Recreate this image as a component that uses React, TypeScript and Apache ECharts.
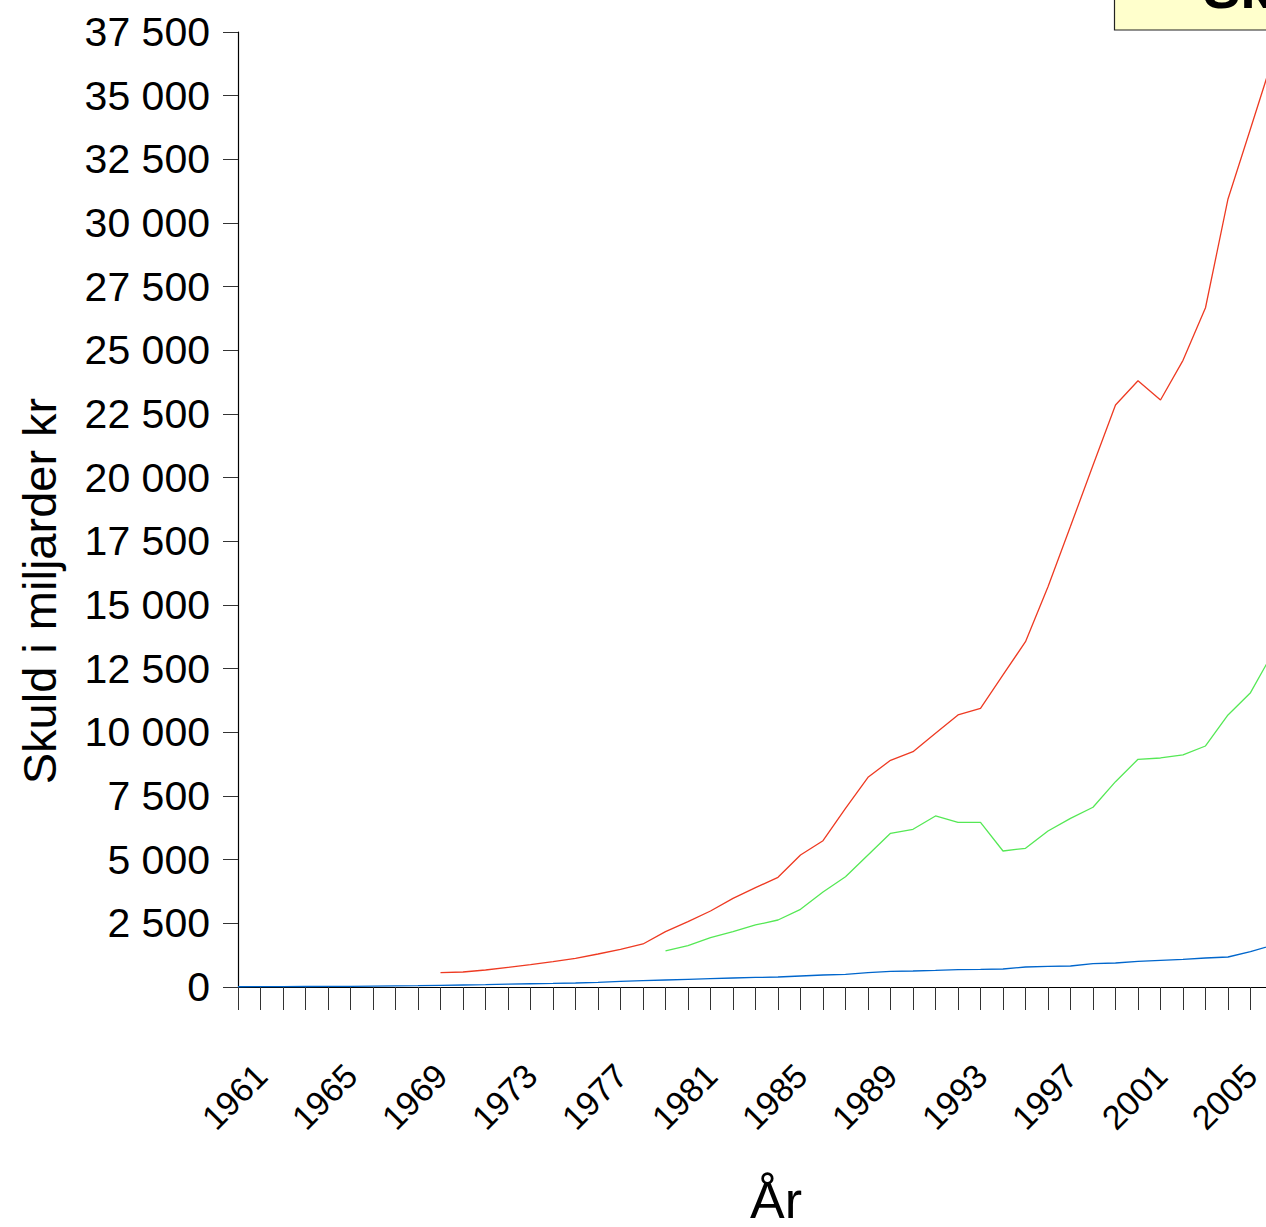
import React, { useEffect, useRef } from "react";
import * as echarts from "echarts";

const FONT = "'Liberation Sans', Arial, sans-serif";

const years: string[] = [];
for (let y = 1961; y <= 2008; y++) years.push(String(y));

// Blue series 1961–2007
const blueValues = [
  10, 12, 15, 19, 23, 28, 34, 42, 52, 66,
  79, 92, 112, 128, 142, 158, 183, 220, 249, 275,
  301, 327, 353, 375, 393, 432, 471, 498, 562, 615,
  628, 654, 681, 690, 707, 785, 811, 825, 916, 942,
  1008, 1047, 1086, 1139, 1178, 1387, 1650,
];

// Red series 1970–2007
const redStart = 1970;
const redValues = [
  562, 589, 668, 772, 877, 995, 1126, 1296, 1479, 1689,
  2173, 2566, 2985, 3482, 3901, 4307, 5184, 5745, 7017, 8235,
  8903, 9241, 9963, 10681, 10944, 12252, 13560, 15720, 18091, 20487,
  22855, 23806, 23051, 24606, 26672, 30945, 33700, 36480,
];

// Green series 1980–2007
const greenStart = 1980;
const greenValues = [
  1414, 1623, 1937, 2173, 2435, 2631, 3050, 3730, 4332, 5184,
  6035, 6192, 6715, 6467, 6467, 5341, 5446, 6126, 6624, 7057,
  8062, 8942, 8993, 9111, 9464, 10681, 11557, 13136,
];

const yTickValues = [0, 2500, 5000, 7500, 10000, 12500, 15000, 17500, 20000, 22500, 25000, 27500, 30000, 32500, 35000, 37500];

function pad(start: number, values: number[]): (number | null)[] {
  const out: (number | null)[] = [];
  for (let y = 1961; y < start; y++) out.push(null);
  return out.concat(values);
}

function fmt(v: number): string {
  const s = String(Math.round(v));
  return s.replace(/\B(?=(\d{3})+(?!\d))/g, " ");
}

export default function App() {
  const ref = useRef<HTMLDivElement>(null);
  useEffect(() => {
    if (!ref.current) return;
    const chart = echarts.init(ref.current, undefined, { renderer: "svg" });
    chart.setOption({
      animation: false,
      backgroundColor: "#ffffff",
      textStyle: { fontFamily: FONT },
      grid: {
        left: 238,
        top: 32,
        width: 1057.5,
        bottom: 240,
        outerBoundsMode: "none",
        containLabel: false,
      },
      xAxis: {
        type: "category",
        data: years,
        boundaryGap: false,
        axisLine: { lineStyle: { color: "#000", width: 1.2 } },
        axisTick: { interval: 0, length: 23, lineStyle: { color: "#333" } },
        axisLabel: {
          interval: 3,
          rotate: 45,
          align: "center",
          verticalAlign: "middle",
          margin: 106,
          padding: [0, 10, 0, 0],
          fontSize: 34,
          color: "#000",
          fontFamily: FONT,
        },
        splitLine: { show: false },
      },
      yAxis: {
        type: "value",
        min: 0,
        max: yTickValues[yTickValues.length - 1],
        interval: 2500,
        axisLine: { show: true, lineStyle: { color: "#000", width: 1.2 } },
        axisTick: { show: true, length: 15, lineStyle: { color: "#333" } },
        axisLabel: {
          margin: 28,
          fontSize: 41,
          color: "#000",
          fontFamily: FONT,
          formatter: (v: number) => fmt(v),
        },
        splitLine: { show: false },
      },
      graphic: [
        {
          type: "text",
          x: 39,
          y: 591,
          rotation: Math.PI / 2,
          style: {
            text: "Skuld i miljarder kr",
            fontSize: 47,
            fontFamily: FONT,
            fill: "#000",
            align: "center",
            verticalAlign: "middle",
          },
        },
        {
          type: "text",
          x: 776,
          y: 1200,
          style: {
            text: "År",
            fontSize: 52,
            fontFamily: FONT,
            fill: "#000",
            align: "center",
            verticalAlign: "middle",
          },
        },
        {
          type: "rect",
          shape: { x: 1114.5, y: -60, width: 300, height: 90 },
          style: { fill: "#FFFFCC", stroke: "#222", lineWidth: 1.2 },
        },
        {
          type: "text",
          x: 1203,
          y: -12,
          style: {
            text: "Skuld",
            fontSize: 56,
            fontWeight: "bold",
            fontFamily: FONT,
            fill: "#000",
            align: "left",
            verticalAlign: "middle",
          },
        },
      ],
      series: [
        {
          name: "Blå",
          type: "line",
          data: blueValues,
          showSymbol: false,
          lineStyle: { color: "#0066CC", width: 1.3 },
          itemStyle: { color: "#0066CC" },
        },
        {
          name: "Röd",
          type: "line",
          data: pad(redStart, redValues),
          showSymbol: false,
          lineStyle: { color: "#EE3A22", width: 1.3 },
          itemStyle: { color: "#EE3A22" },
        },
        {
          name: "Grön",
          type: "line",
          data: pad(greenStart, greenValues),
          showSymbol: false,
          lineStyle: { color: "#55E855", width: 1.3 },
          itemStyle: { color: "#55E855" },
        },
      ],
    });
    return () => chart.dispose();
  }, []);

  return (
    <div
      style={{
        position: "absolute",
        left: 0,
        top: 0,
        width: 1266,
        height: 1227,
        overflow: "hidden",
        background: "#fff",
      }}
    >
      <div ref={ref} style={{ width: 1400, height: 1227 }} />
    </div>
  );
}
